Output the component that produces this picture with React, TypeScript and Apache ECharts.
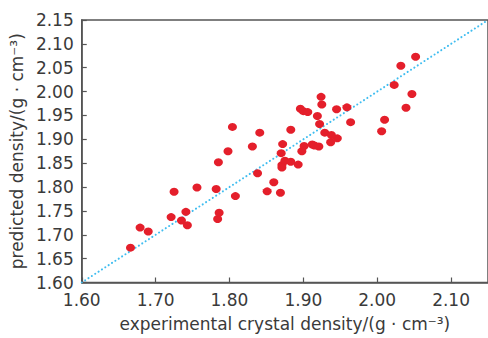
import React, { useEffect, useRef } from "react";
import * as echarts from "echarts";

const experimental: number[] = [
  1.666, 1.679, 1.690, 1.721, 1.725, 1.735, 1.741, 1.743, 1.756, 1.782,
  1.784, 1.786, 1.785, 1.798, 1.804, 1.808, 1.831, 1.838, 1.841, 1.851,
  1.860, 1.869, 1.870, 1.872, 1.871, 1.871, 1.875, 1.883, 1.883, 1.893,
  1.898, 1.901, 1.912, 1.915, 1.921, 1.937, 1.946, 1.929, 1.938, 1.896,
  1.900, 1.906, 1.919, 1.922, 1.924, 1.925, 1.945, 1.959, 1.964, 2.006,
  2.010, 2.023, 2.032, 2.039, 2.047, 2.052,
];
const predicted: number[] = [
  1.673, 1.715, 1.707, 1.737, 1.790, 1.730, 1.748, 1.720, 1.799, 1.796,
  1.733, 1.746, 1.852, 1.875, 1.926, 1.781, 1.885, 1.829, 1.914, 1.791,
  1.810, 1.788, 1.871, 1.890, 1.846, 1.841, 1.855, 1.853, 1.920, 1.847,
  1.875, 1.886, 1.889, 1.887, 1.885, 1.894, 1.902, 1.914, 1.909, 1.964,
  1.959, 1.957, 1.949, 1.932, 1.989, 1.973, 1.963, 1.967, 1.936, 1.917,
  1.941, 2.014, 2.054, 1.966, 1.995, 2.073,
];
const diagonal: number[][] = [
  [1.6, 1.6],
  [2.15, 2.15],
];
const xTitle = "experimental crystal density/(g · cm⁻³)";
const yTitle = "predicted density/(g · cm⁻³)";

export default function App() {
  const ref = useRef<HTMLDivElement>(null);
  useEffect(() => {
    if (!ref.current) return;
    const chart = echarts.init(ref.current, undefined, { renderer: "svg" });
    const font = "DejaVu Sans";
    const axisColor = "#555";
    const textColor = "#3a3a3a";
    chart.setOption({
      animation: false,
      backgroundColor: "#fff",
      grid: {
        left: 80.7,
        top: 20,
        bottom: 55.5,
        right: -8,
        show: true,
        borderColor: axisColor,
        borderWidth: 1.5,
      },
      xAxis: {
        type: "value",
        min: 1.6,
        max: 2.15,
        interval: 0.1,
        name: xTitle,
        nameLocation: "middle",
        nameGap: 33,
        nameTextStyle: { fontFamily: font, fontSize: 17, color: textColor },
        axisLine: { show: true, lineStyle: { color: axisColor, width: 1.5 } },
        axisTick: { show: true, inside: true, length: 5, lineStyle: { color: axisColor, width: 1.2 } },
        axisLabel: {
          showMaxLabel: false,
          margin: 9,
          fontFamily: font,
          fontSize: 17,
          color: textColor,
          formatter: (v: number) => v.toFixed(2),
        },
        splitLine: { show: false },
      },
      yAxis: {
        type: "value",
        min: 1.6,
        max: 2.15,
        interval: 0.05,
        name: yTitle,
        nameLocation: "middle",
        nameGap: 54,
        nameTextStyle: { fontFamily: font, fontSize: 17, color: textColor },
        axisLine: { show: true, lineStyle: { color: axisColor, width: 1.5 } },
        axisTick: { show: true, inside: true, length: 5, lineStyle: { color: axisColor, width: 1.2 } },
        axisLabel: {
          margin: 8,
          fontFamily: font,
          fontSize: 17,
          color: textColor,
          formatter: (v: number) => v.toFixed(2),
        },
        splitLine: { show: false },
      },
      series: [
        {
          type: "line",
          data: diagonal,
          symbol: "none",
          lineStyle: { color: "#3fbdf0", width: 2, type: [0.1, 3.9], cap: "round" },
          z: 1,
        },
        {
          type: "scatter",
          data: experimental.map((x, i) => [x, predicted[i]]),
          symbol: "circle",
          symbolSize: [9, 8],
          itemStyle: { color: "#e41f2b", opacity: 1 },
          z: 2,
        },
      ],
    });
    return () => chart.dispose();
  }, []);
  return (
    <div
      ref={ref}
      style={{ position: "fixed", left: 0, top: 0, width: 488, height: 338 }}
    />
  );
}
